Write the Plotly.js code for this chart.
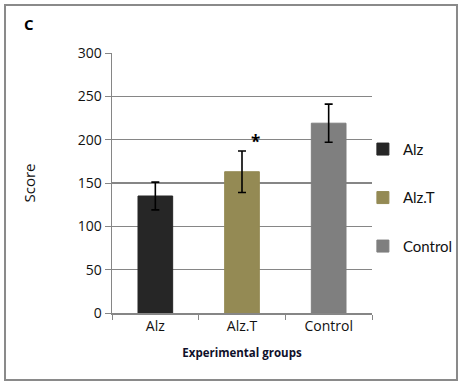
<!DOCTYPE html>
<html><head><meta charset="utf-8">
<script src="https://cdn.plot.ly/plotly-3.0.1.min.js"></script>
<style>body{margin:0;background:#fff}#c{width:462px;height:384px}</style>
</head><body><div id="c"></div>
<script>
const categories = ["Alz", "Alz.T", "Control"];
const scores = [135, 163, 219];
const errors = [16, 24, 22];
const colors = ["#262626", "#948a54", "#7f7f7f"];
const yTicks = [0, 50, 100, 150, 200, 250, 300];

const font = "'Open Sans', Lato, sans-serif";
const traces = categories.map((c, i) => ({
  type: "bar",
  name: c,
  x: [c],
  y: [scores[i]],
  marker: {color: colors[i], line: {color: colors[i], width: 1}},
  error_y: {type: "data", array: [errors[i]], visible: true, color: "#000", thickness: 1.6, width: 4},
  legendgroup: c
}));

const layout = {
  width: 462, height: 384,
  margin: {l: 112, r: 90, t: 53, b: 71, autoexpand: false},
  paper_bgcolor: "#fff", plot_bgcolor: "#fff",
  barmode: "overlay", bargap: 0.6,
  font: {family: font, size: 14, color: "#111"},
  showlegend: true,
  legend: {x: 0.965, y: 0.693, xanchor: "left", yanchor: "top", tracegroupgap: 26,
           bgcolor: "rgba(0,0,0,0)",
           font: {family: "Lato, sans-serif", size: 15, color: "#111"}, itemwidth: 30},
  xaxis: {
    categoryorder: "array", categoryarray: categories,
    showline: true, linecolor: "#868686", linewidth: 1.5,
    ticks: "outside", tickson: "boundaries", ticklen: 5, tickcolor: "#868686",
    tickfont: {size: 14, color: "#111"},
    title: {text: "<b>Experimental groups</b>", font: {size: 11.5, color: "#10102a"}, standoff: 14}
  },
  yaxis: {
    range: [0, 300], tickvals: yTicks, ticktext: yTicks.map(String),
    showline: true, linecolor: "#868686", linewidth: 1.5,
    showgrid: true, gridcolor: "#868686", gridwidth: 1.5,
    ticks: "outside", ticklen: 6, tickcolor: "#868686",
    tickfont: {size: 14, color: "#111"},
    zeroline: false,
    title: {text: "Score", font: {size: 15, color: "#111"}, standoff: 38}
  },
  annotations: [
    {x: "Alz.T", y: 198, xref: "x", yref: "y", text: "<b>*</b>", showarrow: false, xshift: 13,
     font: {size: 17, color: "#000"}},
    {x: -0.32, y: 1.11, xref: "paper", yref: "paper", text: "<b>C</b>", showarrow: false,
     font: {size: 15, color: "#000"}, xanchor: "center", yanchor: "middle"}
  ],
  shapes: [
    {type: "rect", xref: "paper", yref: "paper", x0: -0.4115, x1: 1.3269, y0: -0.2577, y1: 1.1846,
     line: {color: "#8a8a8a", width: 2}, fillcolor: "rgba(0,0,0,0)"}
  ]
};
Plotly.newPlot("c", traces, layout, {displayModeBar: false, staticPlot: true});
</script></body></html>
